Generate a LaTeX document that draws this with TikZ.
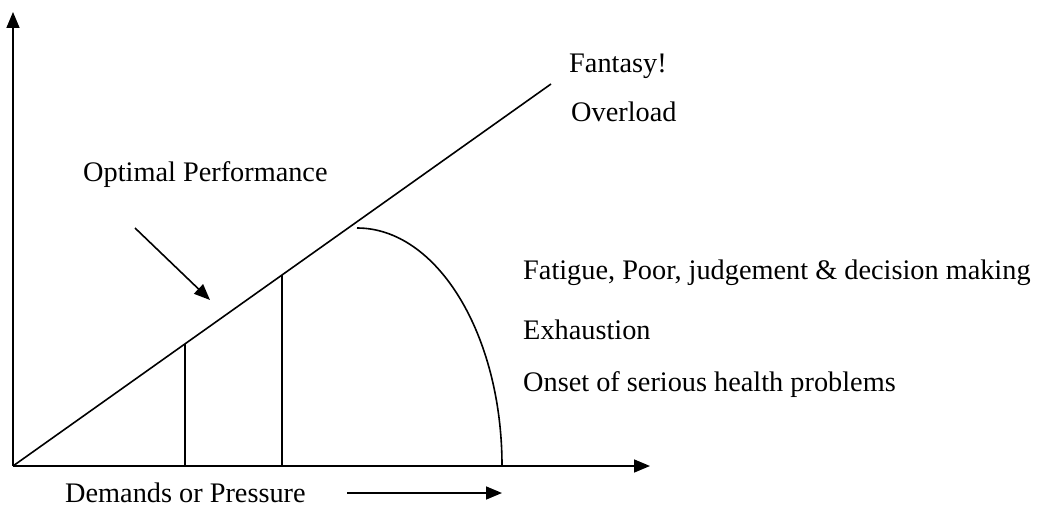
\documentclass[tikz,border=0pt]{standalone}
\usepackage{fontspec}
\setmainfont{Liberation Serif}
\usetikzlibrary{arrows.meta}
\begin{document}
\begin{tikzpicture}[x=1pt,y=-1pt,
  lbl/.style={anchor=west,inner sep=0pt,font=\fontsize{28.3}{34}\selectfont},
  ln/.style={line width=1.6pt,black},
  arr/.style={ln,-{Triangle[length=16pt,width=13pt]}}]
\useasboundingbox (0,0) rectangle (1048,529);
\coordinate (O) at (13,466);
\coordinate (ytop) at (13,12);
\coordinate (xend) at (650,466);
\coordinate (dend) at (551,84);
\coordinate (v1t) at (185,344);
\coordinate (v1b) at (185,466);
\coordinate (v2t) at (282,275);
\coordinate (v2b) at (282,466);
\coordinate (arcs) at (357,228);
\coordinate (arce) at (502,466);
\coordinate (pa) at (135,228);
\coordinate (pb) at (210,300);
\coordinate (da) at (347,493);
\coordinate (db) at (502,493);
\draw[arr] (O) -- (ytop);
\draw[arr] (O) -- (xend);
\draw[ln] (O) -- (dend);
\draw[ln] (v1b) -- (v1t);
\draw[ln] (v2b) -- (v2t);
\draw[ln] (arcs) arc[start angle=90,end angle=0,x radius=145,y radius=-238];
\draw[arr] (pa) -- (pb);
\draw[arr] (da) -- (db);
\node[lbl] (fan) at (569,66) {Fantasy!};
\node[lbl] (ovl) at (571,112) {Overload};
\node[lbl] (opt) at (83,175) {Optimal Performance};
\node[lbl] (fat) at (523,273) {Fatigue, Poor, judgement \& decision making};
\node[lbl] (exh) at (523,330) {Exhaustion};
\node[lbl] (ons) at (523,385) {Onset of serious health problems};
\node[lbl] (dem) at (65,493) {Demands or Pressure};
\end{tikzpicture}
\end{document}
